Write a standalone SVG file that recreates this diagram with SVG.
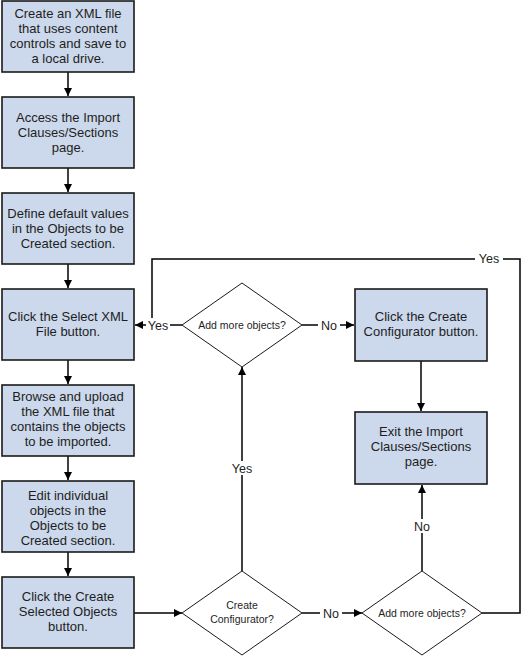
<svg xmlns="http://www.w3.org/2000/svg" width="522" height="656" viewBox="0 0 522 656">
<style>
.box{fill:#CCD8EB;stroke:#1a1a1a;stroke-width:1.6}
.dia{fill:#fff;stroke:#1a1a1a;stroke-width:1}
.t{font-family:"Liberation Sans",Arial,sans-serif;font-size:13px;fill:#1e1e1e;text-anchor:middle}
.d{font-family:"Liberation Sans",Arial,sans-serif;font-size:10.5px;fill:#1e1e1e;text-anchor:middle}
.l{font-family:"Liberation Sans",Arial,sans-serif;font-size:12.5px;fill:#1e1e1e;text-anchor:middle}
.c{fill:none;stroke:#000;stroke-width:1.5}
.bg{fill:#fff}
</style>
<defs>
<marker id="ah" viewBox="0 0 10 10" refX="10" refY="5" markerWidth="8" markerHeight="8" markerUnits="userSpaceOnUse" orient="auto">
<path d="M0,0 L10,5 L0,10 z" fill="#000"/>
</marker>
</defs>
<rect width="522" height="656" fill="#fff"/>
<g id="connectors">
<line class="c" x1="68" y1="72" x2="68" y2="96" marker-end="url(#ah)"/>
<line class="c" x1="68" y1="168" x2="68" y2="192" marker-end="url(#ah)"/>
<line class="c" x1="68" y1="264" x2="68" y2="288" marker-end="url(#ah)"/>
<line class="c" x1="68" y1="360" x2="68" y2="384" marker-end="url(#ah)"/>
<line class="c" x1="68" y1="456" x2="68" y2="480" marker-end="url(#ah)"/>
<line class="c" x1="68" y1="552" x2="68" y2="576" marker-end="url(#ah)"/>
<line class="c" x1="134" y1="613" x2="182" y2="613" marker-end="url(#ah)"/>
<line class="c" x1="302" y1="613" x2="362" y2="613" marker-end="url(#ah)"/>
<line class="c" x1="242" y1="571" x2="242" y2="367" marker-end="url(#ah)"/>
<line class="c" x1="422" y1="571" x2="422" y2="485" marker-end="url(#ah)"/>
<line class="c" x1="421" y1="361" x2="421" y2="411" marker-end="url(#ah)"/>
<line class="c" x1="302" y1="325" x2="354" y2="325" marker-end="url(#ah)"/>
<line class="c" x1="182" y1="325" x2="135" y2="325" marker-end="url(#ah)"/>
<polyline class="c" points="482,613 520,613 520,259 152,259 152,325"/>
<rect class="bg" x="146" y="318" width="24" height="14"/>
<text class="l" x="158" y="330">Yes</text>
<rect class="bg" x="318" y="318" width="22" height="14"/>
<text class="l" x="329" y="330">No</text>
<rect class="bg" x="475" y="252" width="28" height="14"/>
<text class="l" x="489" y="263">Yes</text>
<rect class="bg" x="229" y="461" width="26" height="14"/>
<text class="l" x="242" y="473">Yes</text>
<rect class="bg" x="320" y="606" width="22" height="14"/>
<text class="l" x="331" y="618">No</text>
<rect class="bg" x="411" y="519" width="22" height="14"/>
<text class="l" x="422" y="531">No</text>
</g>
<g id="n1"><rect class="box" x="2" y="1" width="132" height="71"/>
<text class="t"><tspan x="68" y="18">Create an XML file</tspan><tspan x="68" y="33">that uses content</tspan><tspan x="68" y="48">controls and save to</tspan><tspan x="68" y="63">a local drive.</tspan></text></g>
<g id="n2"><rect class="box" x="2" y="97" width="132" height="71"/>
<text class="t"><tspan x="68" y="122">Access the Import</tspan><tspan x="68" y="137">Clauses/Sections</tspan><tspan x="68" y="152">page.</tspan></text></g>
<g id="n3"><rect class="box" x="2" y="193" width="132" height="71"/>
<text class="t"><tspan x="68" y="218">Define default values</tspan><tspan x="68" y="233">in the Objects to be</tspan><tspan x="68" y="248">Created section.</tspan></text></g>
<g id="n4"><rect class="box" x="2" y="289" width="132" height="71"/>
<text class="t"><tspan x="68" y="321">Click the Select XML</tspan><tspan x="68" y="336">File button.</tspan></text></g>
<g id="n5"><rect class="box" x="2" y="385" width="132" height="71"/>
<text class="t"><tspan x="68" y="401">Browse and upload</tspan><tspan x="68" y="416">the XML file that</tspan><tspan x="68" y="431">contains the objects</tspan><tspan x="68" y="446">to be imported.</tspan></text></g>
<g id="n6"><rect class="box" x="2" y="481" width="132" height="71"/>
<text class="t"><tspan x="68" y="500">Edit individual</tspan><tspan x="68" y="515">objects in the</tspan><tspan x="68" y="530">Objects to be</tspan><tspan x="68" y="545">Created section.</tspan></text></g>
<g id="n7"><rect class="box" x="2" y="577" width="132" height="71"/>
<text class="t"><tspan x="68" y="601">Click the Create</tspan><tspan x="68" y="616">Selected Objects</tspan><tspan x="68" y="631">button.</tspan></text></g>
<g id="n8"><rect class="box" x="355" y="289" width="132" height="72"/>
<text class="t"><tspan x="421" y="321">Click the Create</tspan><tspan x="421" y="336">Configurator button.</tspan></text></g>
<g id="n9"><rect class="box" x="355" y="412" width="132" height="72"/>
<text class="t"><tspan x="421" y="436">Exit the Import</tspan><tspan x="421" y="451">Clauses/Sections</tspan><tspan x="421" y="466">page.</tspan></text></g>
<g id="d1"><polygon class="dia" points="242,283 302,325 242,367 182,325"/>
<text class="d" x="242" y="329">Add more objects?</text></g>
<g id="d2"><polygon class="dia" points="242,571 302,613 242,655 182,613"/>
<text class="d"><tspan x="242" y="609">Create</tspan><tspan x="242" y="623">Configurator?</tspan></text></g>
<g id="d3"><polygon class="dia" points="422,571 482,613 422,655 362,613"/>
<text class="d" x="422" y="617">Add more objects?</text></g>
</svg>
